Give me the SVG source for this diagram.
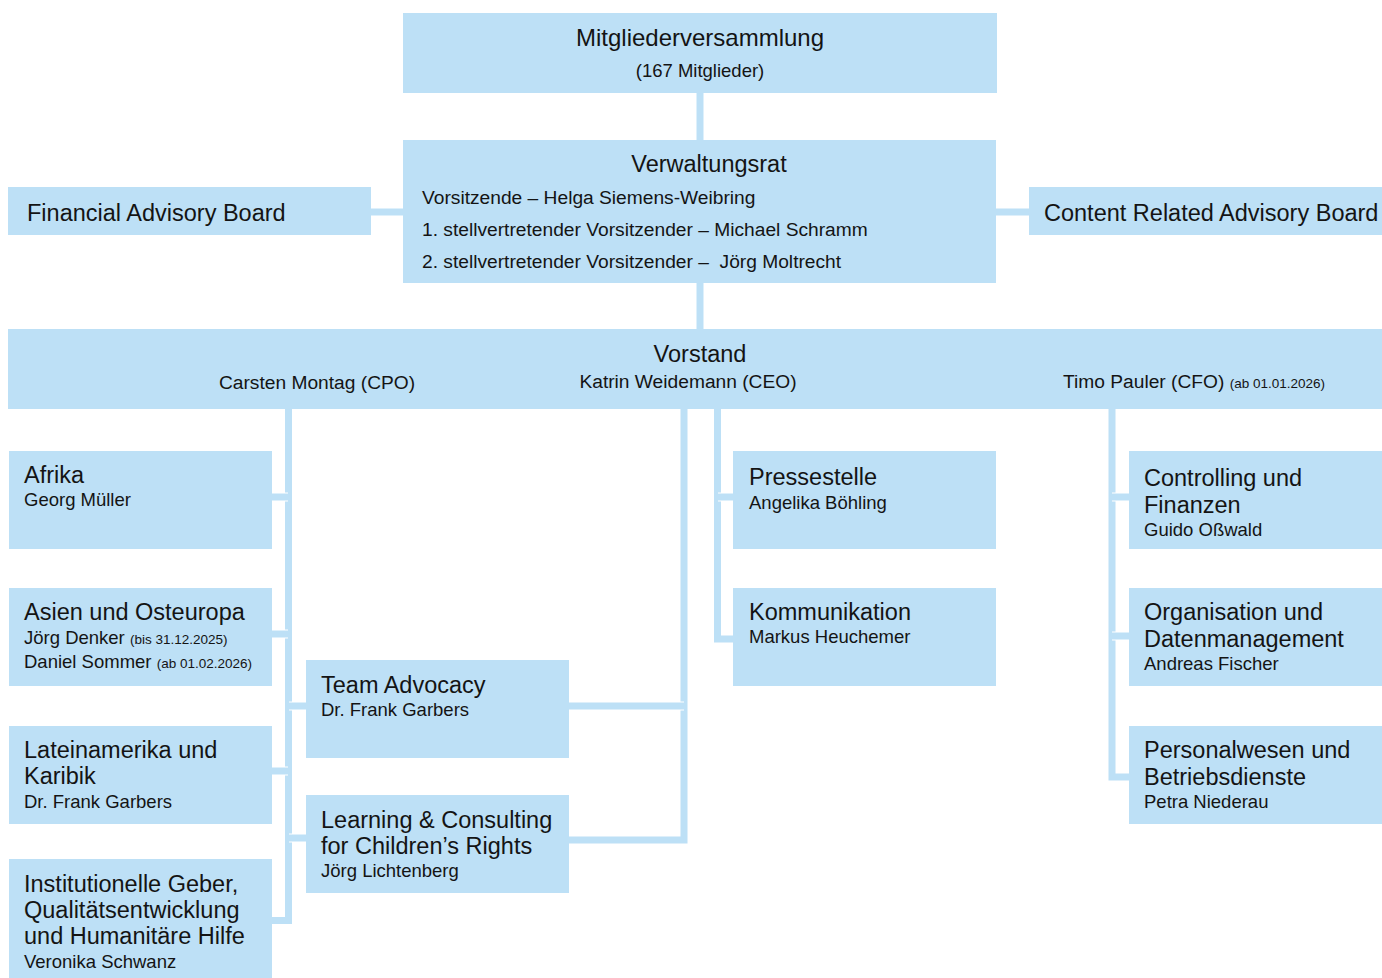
<svg xmlns="http://www.w3.org/2000/svg" width="1382" height="978" viewBox="0 0 1382 978">
<style>
.b{fill:#bde0f6}
.t{font-family:"Liberation Sans",Arial,sans-serif;fill:#141414}
.h{font-size:23.5px}
.s{font-size:18.5px}
.m{font-size:19.2px}
.x{font-size:13.5px}
.w{fill:none;stroke:#ffffff;stroke-width:9}
.c{fill:none;stroke:#bde0f6;stroke-width:7}
.mid{text-anchor:middle}
</style>
<rect width="1382" height="978" fill="#ffffff"/>
<g id="connectors">
<path class="w" d="M700 93V140"/><path class="c" d="M700 93V140"/>
<path class="w" d="M700 283V329"/><path class="c" d="M700 283V329"/>
<path class="w" d="M371 212H403"/><path class="c" d="M371 212H403"/>
<path class="w" d="M996 212H1029"/><path class="c" d="M996 212H1029"/>
<path class="w" d="M288.5 409V920.5H272"/><path class="c" d="M288.5 409V920.5H272"/>
<path class="w" d="M272 497H288"/><path class="c" d="M272 497H288"/>
<path class="w" d="M272 634H288"/><path class="c" d="M272 634H288"/>
<path class="w" d="M272 771H288"/><path class="c" d="M272 771H288"/>
<path class="w" d="M289 706H306"/><path class="c" d="M289 706H306"/>
<path class="w" d="M289 838H306"/><path class="c" d="M289 838H306"/>
<path class="w" d="M684 409V840H569"/><path class="c" d="M684 409V840H569"/>
<path class="w" d="M569 706H684"/><path class="c" d="M569 706H684"/>
<path class="w" d="M717.5 409V639H733"/><path class="c" d="M717.5 409V639H733"/>
<path class="w" d="M718 497H733"/><path class="c" d="M718 497H733"/>
<path class="w" d="M1112 409V777H1129"/><path class="c" d="M1112 409V777H1129"/>
<path class="w" d="M1112 497H1129"/><path class="c" d="M1112 497H1129"/>
<path class="w" d="M1112 636H1129"/><path class="c" d="M1112 636H1129"/>
</g>
<g id="mitgliederversammlung">
<rect class="b" x="403" y="13" width="594" height="80"/>
<text class="t mid" style="font-size:24px" x="700" y="46">Mitgliederversammlung</text>
<text class="t s mid" x="700" y="77">(167 Mitglieder)</text>
</g>
<g id="verwaltungsrat">
<rect class="b" x="403" y="140" width="593" height="143"/>
<text class="t h mid" x="709" y="172">Verwaltungsrat</text>
<text class="t m" x="422" y="204">Vorsitzende – Helga Siemens-Weibring</text>
<text class="t m" x="422" y="236">1. stellvertretender Vorsitzender – Michael Schramm</text>
<text class="t m" x="422" y="268">2. stellvertretender Vorsitzender – &#160;Jörg Moltrecht</text>
</g>
<g id="financial-advisory-board">
<rect class="b" x="8" y="187" width="363" height="48"/>
<text class="t h" x="27" y="221">Financial Advisory Board</text>
</g>
<g id="content-related-advisory-board">
<rect class="b" x="1029" y="187" width="353" height="48"/>
<text class="t h" x="1044" y="221">Content Related Advisory Board</text>
</g>
<g id="vorstand">
<rect class="b" x="8" y="329" width="1374" height="80"/>
<text class="t h mid" x="700" y="362">Vorstand</text>
<text class="t m mid" x="317" y="389">Carsten Montag (CPO)</text>
<text class="t m mid" x="688" y="388">Katrin Weidemann (CEO)</text>
<text class="t m" x="1063" y="388">Timo Pauler (CFO) <tspan class="x">(ab 01.01.2026)</tspan></text>
</g>
<g id="afrika">
<rect class="b" x="9" y="451" width="263" height="98"/>
<text class="t h" x="24" y="483">Afrika</text>
<text class="t s" x="24" y="506">Georg Müller</text>
</g>
<g id="asien">
<rect class="b" x="9" y="588" width="263" height="98"/>
<text class="t h" x="24" y="620">Asien und Osteuropa</text>
<text class="t s" x="24" y="644">Jörg Denker <tspan class="x">(bis 31.12.2025)</tspan></text>
<text class="t s" x="24" y="668">Daniel Sommer <tspan class="x">(ab 01.02.2026)</tspan></text>
</g>
<g id="lateinamerika">
<rect class="b" x="9" y="726" width="263" height="98"/>
<text class="t h" x="24" y="758">Lateinamerika und</text>
<text class="t h" x="24" y="784">Karibik</text>
<text class="t s" x="24" y="808">Dr. Frank Garbers</text>
</g>
<g id="institutionelle-geber">
<rect class="b" x="9" y="859" width="263" height="119"/>
<text class="t h" x="24" y="892">Institutionelle Geber,</text>
<text class="t h" x="24" y="918">Qualitätsentwicklung</text>
<text class="t h" x="24" y="944">und Humanitäre Hilfe</text>
<text class="t s" x="24" y="968">Veronika Schwanz</text>
</g>
<g id="team-advocacy">
<rect class="b" x="306" y="660" width="263" height="98"/>
<text class="t h" x="321" y="693">Team Advocacy</text>
<text class="t s" x="321" y="716">Dr. Frank Garbers</text>
</g>
<g id="learning-consulting">
<rect class="b" x="306" y="795" width="263" height="98"/>
<text class="t h" x="321" y="828">Learning &amp; Consulting</text>
<text class="t h" x="321" y="854">for Children’s Rights</text>
<text class="t s" x="321" y="877">Jörg Lichtenberg</text>
</g>
<g id="pressestelle">
<rect class="b" x="733" y="451" width="263" height="98"/>
<text class="t h" x="749" y="485">Pressestelle</text>
<text class="t s" x="749" y="509">Angelika Böhling</text>
</g>
<g id="kommunikation">
<rect class="b" x="733" y="588" width="263" height="98"/>
<text class="t h" x="749" y="620">Kommunikation</text>
<text class="t s" x="749" y="643">Markus Heuchemer</text>
</g>
<g id="controlling">
<rect class="b" x="1129" y="451" width="253" height="98"/>
<text class="t h" x="1144" y="486">Controlling und</text>
<text class="t h" x="1144" y="513">Finanzen</text>
<text class="t s" x="1144" y="536">Guido Oßwald</text>
</g>
<g id="organisation">
<rect class="b" x="1129" y="588" width="253" height="98"/>
<text class="t h" x="1144" y="620">Organisation und</text>
<text class="t h" x="1144" y="647">Datenmanagement</text>
<text class="t s" x="1144" y="670">Andreas Fischer</text>
</g>
<g id="personalwesen">
<rect class="b" x="1129" y="726" width="253" height="98"/>
<text class="t h" x="1144" y="758">Personalwesen und</text>
<text class="t h" x="1144" y="785">Betriebsdienste</text>
<text class="t s" x="1144" y="808">Petra Niederau</text>
</g>
</svg>
